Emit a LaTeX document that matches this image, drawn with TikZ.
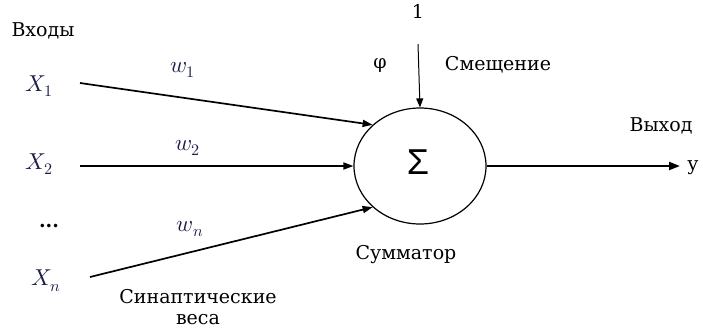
\documentclass[tikz,border=0pt]{standalone}
\usepackage{unicode-math}
\setmainfont{DejaVu Serif}
\setmathfont{Latin Modern Math}
\newfontfamily\rusfont{DejaVu Serif}
\newfontfamily\sigmafont{Liberation Sans}
\usetikzlibrary{arrows.meta,shapes.geometric}
\definecolor{mathcol}{RGB}{28,28,72}
\tikzset{
  lbl/.style={font=\rusfont\fontsize{19}{23}\selectfont, inner sep=0pt},
  mlbl/.style={font=\fontsize{23}{27}\selectfont, text=mathcol, inner sep=0pt},
  inarrow/.style={line width=1.7pt, -{Triangle[length=10pt,width=7pt]}},
  outarrow/.style={line width=2.2pt, -{Triangle[length=11pt,width=8pt]}},
  biasarrow/.style={line width=1pt, -{Triangle[length=9pt,width=7pt]}},
  summer/.style={ellipse, draw, line width=1.2pt, minimum width=132pt, minimum height=116pt, inner sep=0pt}
}
\begin{document}
\begin{tikzpicture}[x=1pt,y=-1pt]
\clip (0,0) rectangle (703,332);
\useasboundingbox (0,0) rectangle (703,332);
% summator
\node[summer] (sum) at (420,166) {};
\node[inner sep=0pt, font=\sigmafont\fontsize{36}{40}\selectfont] (sig) at (418,162) {Σ};
% inputs
\node[lbl] (inputs) at (43,31) {Входы};
\node[mlbl] (x1) at (39,86) {$X_1$};
\node[mlbl] (x2) at (39,164) {$X_2$};
\node[lbl, font=\rusfont\bfseries\fontsize{19}{23}\selectfont] (dots) at (49,226) {...};
\node[mlbl] (xn) at (46,281) {$X_n$};
\coordinate (s1) at (80,83);
\coordinate (s2) at (80,166);
\coordinate (sn) at (90,277);
\draw[inarrow] (s1) -- (sum.139);
\draw[inarrow] (s2) -- (sum.west);
\draw[inarrow] (sn) -- (sum.221);
% weights
\node[mlbl] (w1) at (183,70) {$w_1$};
\node[mlbl] (w2) at (188,148) {$w_2$};
\node[mlbl] (wn) at (190,229) {$w_n$};
\node[lbl, align=center] (syn) at (198,307) {Синаптические\\[-2pt]веса};
% bias
\node[lbl, anchor=base] (one) at (418,18) {1};
\coordinate (b0) at (418,44);
\draw[biasarrow] (b0) -- (sum.north);
\node[lbl] (phi) at (380,66) {φ};
\node[lbl] (bias) at (498,65) {Смещение};
% output
\node[lbl] (sumlbl) at (406,255) {Сумматор};
\coordinate (oend) at (680,166);
\draw[outarrow] (sum.east) -- (oend);
\node[lbl] (outlbl) at (661,126) {Выход};
\node[lbl] (y) at (693,168) {y};
\end{tikzpicture}
\end{document}
